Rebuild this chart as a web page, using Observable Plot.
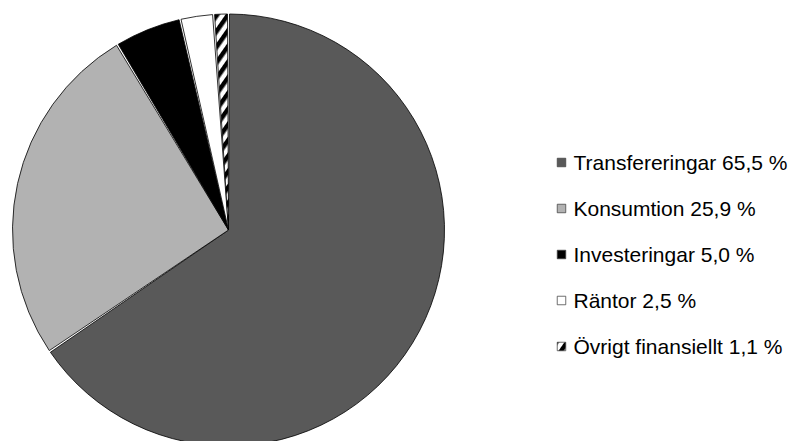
<!DOCTYPE html>
<html><head><meta charset="utf-8">
<script src="https://cdn.jsdelivr.net/npm/d3@7"></script>
<script src="https://cdn.jsdelivr.net/npm/@observablehq/plot@0.6"></script>
<style>body{margin:0;background:#fff}</style>
</head><body><div id="chart"></div>
<script>
const categories = ["Transfereringar", "Konsumtion", "Investeringar", "Räntor", "Övrigt finansiellt"];
const shares = [65.5, 25.9, 5.0, 2.5, 1.1];
const labels = ["Transfereringar 65,5 %", "Konsumtion 25,9 %", "Investeringar 5,0 %", "Räntor 2,5 %", "Övrigt finansiellt 1,1 %"];
const colors = ["#595959", "#b2b2b2", "#000000", "#ffffff", "url(#hatch)"];

const data = categories.map((c, i) => ({category: c, share: shares[i], label: labels[i]}));

const W = 792, H = 441;
const CX = 228.5, CY = 230, R = 216;

function pieMark(index, scales) {
  const g = d3.create("svg:g");
  const defs = g.append("defs");
  const pat = defs.append("pattern")
    .attr("id", "hatch").attr("patternUnits", "userSpaceOnUse")
    .attr("width", 9).attr("height", 9)
    .attr("patternTransform", "rotate(35)");
  pat.append("rect").attr("width", 9).attr("height", 9).attr("fill", "#fff");
  pat.append("rect").attr("width", 4.5).attr("height", 9).attr("fill", "#000");

  const arcs = d3.pie().sort(null).value(d => d.share)(data);
  const arc = d3.arc().innerRadius(0).outerRadius(R).padAngle(2 / R).padRadius(R);
  g.attr("transform", `translate(${CX},${CY})`)
    .selectAll("path").data(arcs).join("path")
    .attr("d", arc)
    .attr("fill", d => scales.color(d.data.category))
    .attr("stroke", "#000")
    .attr("stroke-width", 0.8)
    .attr("stroke-linejoin", "round");
  return g.node();
}

const chart = Plot.plot({
  width: W, height: H,
  margin: 0,
  style: {fontFamily: "'Liberation Sans', Arial, sans-serif", background: "#fff"},
  x: {domain: [0, W], range: [0, W], axis: null},
  y: {type: "point", domain: categories, range: [161, 346], padding: 0, axis: null},
  color: {type: "ordinal", domain: categories, range: colors},
  marks: [
    pieMark,
    Plot.dot(data, {frameAnchor: "left", dx: 561, y: "category", symbol: "square", r: 4.8,
      fill: "category", stroke: "#404040", strokeWidth: 0.75}),
    Plot.text(data, {frameAnchor: "left", dx: 573, y: "category", text: "label",
      textAnchor: "start", fontSize: 21, fill: "#000", dy: 1})
  ]
});
document.getElementById("chart").appendChild(chart);
</script>
</body></html>
